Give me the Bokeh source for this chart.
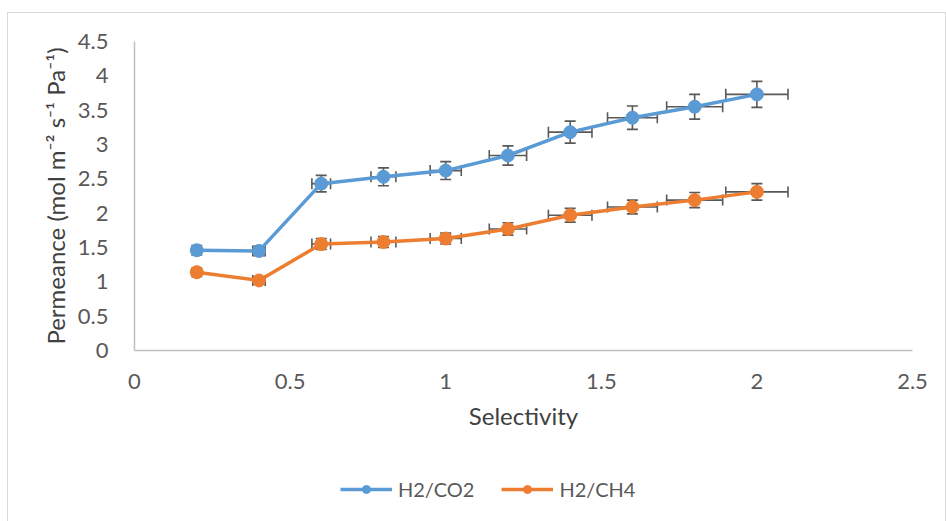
from bokeh.plotting import figure
from bokeh.layouts import column
from bokeh.models import ColumnDataSource, Whisker, TeeHead, Legend, LegendItem, FixedTicker
from bokeh.embed import file_html
from bokeh.resources import INLINE

selectivity = [0.2, 0.4, 0.6, 0.8, 1.0, 1.2, 1.4, 1.6, 1.8, 2.0]
x_err = [0.01, 0.02, 0.03, 0.04, 0.05, 0.06, 0.07, 0.08, 0.09, 0.10]
h2_co2 = [1.46, 1.45, 2.43, 2.53, 2.62, 2.84, 3.18, 3.39, 3.55, 3.73]
h2_co2_err = [0.07, 0.07, 0.12, 0.13, 0.13, 0.14, 0.16, 0.17, 0.18, 0.19]
h2_ch4 = [1.14, 1.02, 1.55, 1.58, 1.63, 1.77, 1.97, 2.09, 2.19, 2.31]
h2_ch4_err = [0.06, 0.05, 0.08, 0.08, 0.08, 0.09, 0.10, 0.10, 0.11, 0.12]
series_names = ["H2/CO2", "H2/CH4"]
colors = ["#5B9BD5", "#ED7D31"]
x_ticks = [0, 0.5, 1, 1.5, 2, 2.5]
x_tick_labels = ["0", "0.5", "1", "1.5", "2", "2.5"]
y_ticks = [0, 0.5, 1, 1.5, 2, 2.5, 3, 3.5, 4, 4.5]
y_tick_labels = ["0", "0.5", "1", "1.5", "2", "2.5", "3", "3.5", "4", "4.5"]

FONT = "Lato"
GREY = "#595959"

p = figure(width=937, height=438, x_range=(0, 2.5), y_range=(0, 4.5),
           output_backend="svg", toolbar_location=None,
           min_border_left=126, min_border_right=33, min_border_top=28, min_border_bottom=101)
p.outline_line_color = None
p.grid.visible = False

for ax, ticks, labels in ((p.xaxis, x_ticks, x_tick_labels), (p.yaxis, y_ticks, y_tick_labels)):
    ax.ticker = FixedTicker(ticks=ticks)
    ax.major_label_overrides = {t: l for t, l in zip(ticks, labels)}
    ax.major_tick_line_color = None
    ax.minor_tick_line_color = None
    ax.axis_line_color = "#bfbfbf"
    ax.axis_line_width = 1.5
    ax.major_label_text_font = FONT
    ax.major_label_text_font_size = "22px"
    ax.major_label_text_color = GREY
    ax.axis_label_text_font = FONT
    ax.axis_label_text_font_size = "24px"
    ax.axis_label_text_font_style = "normal"
    ax.axis_label_text_color = "#404040"

p.xaxis.axis_label = "Selectivity"
p.yaxis.axis_label = "Permeance (mol m\u207b\u00b2 s\u207b\u00b9 Pa\u207b\u00b9)"
p.xaxis.major_label_standoff = 17
p.yaxis.major_label_standoff = 20
p.xaxis.axis_label_standoff = 9
p.yaxis.axis_label_standoff = 5

leg_fig = figure(width=937, height=70, x_range=(0, 1), y_range=(0, 1),
                 output_backend="svg", toolbar_location=None,
                 min_border_left=126, min_border_right=33, min_border_top=0, min_border_bottom=0)
leg_fig.axis.visible = False
leg_fig.grid.visible = False
leg_fig.outline_line_color = None

items = []
for name, ys, yerr, col in ((series_names[0], h2_co2, h2_co2_err, colors[0]),
                            (series_names[1], h2_ch4, h2_ch4_err, colors[1])):
    src = ColumnDataSource(dict(
        x=selectivity, y=ys,
        ylo=[a - b for a, b in zip(ys, yerr)], yhi=[a + b for a, b in zip(ys, yerr)],
        xlo=[a - b for a, b in zip(selectivity, x_err)], xhi=[a + b for a, b in zip(selectivity, x_err)],
    ))
    for dim, base, lo, hi in (("height", "x", "ylo", "yhi"), ("width", "y", "xlo", "xhi")):
        w = Whisker(source=src, base=base, lower=lo, upper=hi, dimension=dim,
                    line_color=GREY, line_width=1.6,
                    upper_head=TeeHead(size=11, line_color=GREY, line_width=1.6),
                    lower_head=TeeHead(size=11, line_color=GREY, line_width=1.6))
        p.add_layout(w)
    p.line("x", "y", source=src, line_color=col, line_width=3.5)
    p.scatter("x", "y", source=src, size=13, fill_color=col, line_color=col)
    # legend sample glyphs in the legend strip (placed outside its visible range)
    dummy = ColumnDataSource(dict(x=[-5, -4], y=[-5, -5]))
    ln = leg_fig.line("x", "y", source=dummy, line_color=col, line_width=3.5)
    sc = leg_fig.scatter("x", "y", source=dummy, size=11, fill_color=col, line_color=col)
    items.append(LegendItem(label=name, renderers=[ln, sc]))

legend = Legend(items=items, orientation="horizontal", location=(206, 20),
                label_text_font=FONT, label_text_font_size="20px", label_text_color=GREY,
                border_line_color=None, background_fill_alpha=0,
                glyph_width=52, spacing=27, label_standoff=6, padding=0, margin=0)
leg_fig.add_layout(legend, "center")

layout = column(p, leg_fig, spacing=0)
layout.styles = {"margin-left": "7px", "margin-top": "12px",
                 "border-left": "1px solid #d9d9d9", "border-top": "1px solid #d9d9d9",
                 "border-right": "1px solid #d9d9d9"}

open("out.html", "w").write(file_html(layout, INLINE))
